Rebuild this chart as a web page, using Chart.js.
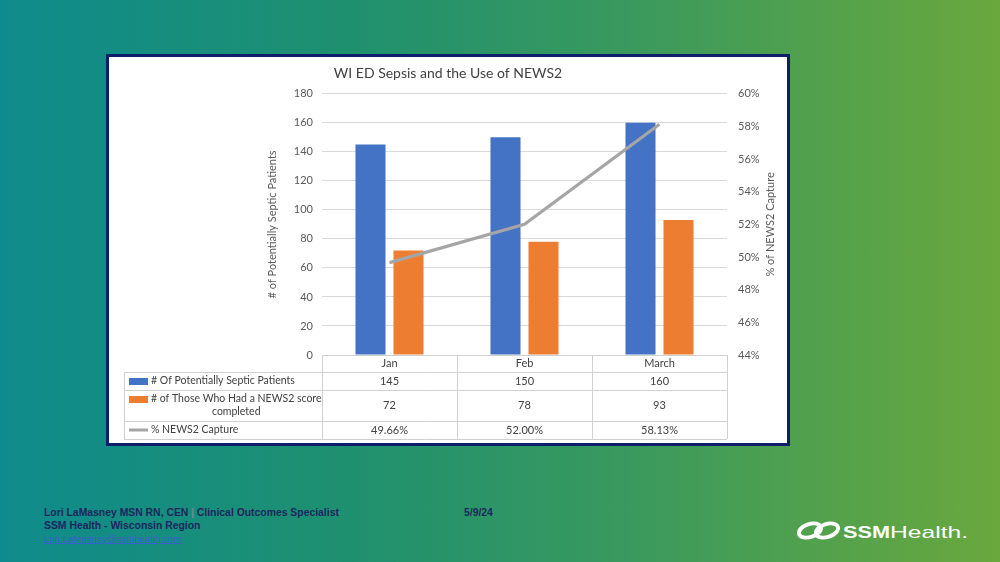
<!DOCTYPE html>
<html>
<head>
<meta charset="utf-8">
<script src="https://cdn.jsdelivr.net/npm/chart.js@4.4.1/dist/chart.umd.min.js"></script>
<style>
html,body{margin:0;padding:0;}
body{width:1000px;height:562px;position:relative;overflow:hidden;
  background:linear-gradient(90deg,#0e8b8c 0%,#1f906f 35%,#3c9a5c 65%,#6aa83d 100%);
  font-family:"Liberation Sans",Arial,sans-serif;}
#box{position:absolute;left:106px;top:54px;width:678px;height:386px;border:3px solid #0d1f6a;background:#fff;}
#c{position:absolute;left:0;top:0;width:678px;height:386px;}
#footer{position:absolute;left:44px;top:506px;font-weight:bold;font-size:10.4px;color:#1b275e;line-height:13px;white-space:nowrap;}
#footer .pipe{color:#9a8fa0;font-weight:normal;}
#footer .mail{font-weight:normal;font-size:9.6px;color:#3a5fcf;text-decoration:underline;}
#date{position:absolute;left:464px;top:506px;font-weight:bold;font-size:10.4px;color:#1b275e;line-height:13px;}
#logo{position:absolute;left:796px;top:514px;}
</style>
</head>
<body>
<div id="box"><canvas id="c" width="678" height="386"></canvas></div>
<div id="footer">
  <div>Lori LaMasney MSN RN, CEN <span class="pipe">|</span> Clinical Outcomes Specialist</div>
  <div>SSM Health - Wisconsin Region</div>
  <div class="mail">Lori.LaMasney@ssmhealth.com</div>
</div>
<div id="date">5/9/24</div>
<svg id="logo" width="185" height="32" viewBox="0 0 185 32">
  <g fill="none" stroke="#ffffff" stroke-width="3.8">
    <ellipse cx="14" cy="16.5" rx="11.5" ry="6.5" transform="rotate(-18 14 16.5)"/>
    <ellipse cx="31" cy="16.5" rx="11.5" ry="6.5" transform="rotate(-18 31 16.5)"/>
  </g>
  <text x="47" y="23.5" font-family="Liberation Sans" font-weight="bold" font-size="16.5" fill="#ffffff" textLength="47" lengthAdjust="spacingAndGlyphs">SSM</text>
  <text x="94" y="23.5" font-family="Liberation Sans" font-size="16.5" fill="#ffffff" textLength="78" lengthAdjust="spacingAndGlyphs">Health.</text>
</svg>
<script>
// ---- data ----
const categories = ['Jan', 'Feb', 'March'];
const septicPatients = [145, 150, 160];
const news2Completed = [72, 78, 93];
const news2CapturePct = [49.66, 52.00, 58.13];
const seriesNames = ['# Of Potentially Septic Patients', '# of Those Who Had a NEWS2 score completed', '% NEWS2 Capture'];
const tableRowLines = [['# Of Potentially Septic Patients'], ['# of Those Who Had a NEWS2 score', 'completed'], ['% NEWS2 Capture']];
const leftAxis = {min: 0, max: 180, step: 20};
const rightAxis = {min: 44, max: 60, step: 2};
const chartTitle = 'WI ED Sepsis and the Use of NEWS2';
const leftAxisTitle = '# of Potentially Septic Patients';
const rightAxisTitle = '% of NEWS2 Capture';

const FONT = 'Lato, "Open Sans", sans-serif';
const TEXT = '#595959';
const GRID = '#d9d9d9';
const colors = ['#4472c4', '#ed7d31', '#a5a5a5'];

const tablePlugin = {
  id: 'tablePlugin',
  afterDraw(chart) {
    const {ctx, chartArea: {left, right, top, bottom}, scales: {x}} = chart;
    const rows = [bottom, bottom + 17, bottom + 35, bottom + 66, bottom + 84];
    const tableLeft = 15;
    const edges = [left];
    for (let i = 0; i < categories.length - 1; i++) {
      edges.push((x.getPixelForValue(i) + x.getPixelForValue(i + 1)) / 2);
    }
    edges.push(right);
    ctx.save();
    ctx.strokeStyle = '#d0d0d0';
    ctx.lineWidth = 1;
    ctx.beginPath();
    ctx.moveTo(left, Math.round(rows[0]) + 0.5); ctx.lineTo(right, Math.round(rows[0]) + 0.5);
    for (let r = 1; r < rows.length; r++) {
      ctx.moveTo(tableLeft, Math.round(rows[r]) + 0.5); ctx.lineTo(right, Math.round(rows[r]) + 0.5);
    }
    edges.forEach(e => { ctx.moveTo(Math.round(e) + 0.5, rows[0]); ctx.lineTo(Math.round(e) + 0.5, rows[4]); });
    ctx.moveTo(tableLeft + 0.5, rows[1]); ctx.lineTo(tableLeft + 0.5, rows[4]);
    ctx.stroke();

    ctx.fillStyle = '#404040';
    ctx.font = '11px ' + FONT;
    ctx.textAlign = 'center';
    ctx.textBaseline = 'middle';
    const mid = r => (rows[r] + rows[r + 1]) / 2;
    categories.forEach((c, i) => {
      const cx = x.getPixelForValue(i);
      ctx.fillText(c, cx, mid(0));
      ctx.fillText(String(septicPatients[i]), cx, mid(1));
      ctx.fillText(String(news2Completed[i]), cx, mid(2));
      ctx.fillText(news2CapturePct[i].toFixed(2) + '%', cx, mid(3));
    });
    // legend column
    const keyL = 20, keyW = 19, textX = 42;
    ctx.font = '10.5px ' + FONT;
    ctx.textAlign = 'left';
    // row 1
    ctx.fillStyle = colors[0];
    ctx.fillRect(keyL, Math.round(mid(1)) - 3, keyW, 7);
    ctx.fillStyle = '#404040';
    ctx.fillText(tableRowLines[0][0], textX, mid(1));
    // row 2
    const l1y = mid(2) - 6.5, l2y = mid(2) + 6.5;
    ctx.fillStyle = colors[1];
    ctx.fillRect(keyL, Math.round(l1y) - 3, keyW, 7);
    ctx.fillStyle = '#404040';
    ctx.fillText(tableRowLines[1][0], textX, l1y);
    const w1 = ctx.measureText(tableRowLines[1][0]).width;
    ctx.textAlign = 'center';
    ctx.fillText(tableRowLines[1][1], textX + w1 / 2, l2y);
    // row 3
    ctx.strokeStyle = colors[2];
    ctx.lineWidth = 3;
    ctx.beginPath();
    ctx.moveTo(keyL, mid(3)); ctx.lineTo(keyL + keyW, mid(3));
    ctx.stroke();
    ctx.textAlign = 'left';
    ctx.fillStyle = '#404040';
    ctx.fillText(tableRowLines[2][0], textX, mid(3));

    // right axis title (reads bottom to top)
    ctx.save();
    ctx.translate(661, (top + bottom) / 2);
    ctx.rotate(-Math.PI / 2);
    ctx.textAlign = 'center';
    ctx.fillStyle = TEXT;
    ctx.font = '11px ' + FONT;
    ctx.fillText(rightAxisTitle, 0, 0);
    ctx.restore();
    ctx.restore();
  }
};

new Chart(document.getElementById('c'), {
  type: 'bar',
  data: {
    labels: categories,
    datasets: [
      {type: 'bar', label: seriesNames[0], data: septicPatients, backgroundColor: colors[0], yAxisID: 'y', order: 2,
       categoryPercentage: 0.563, barPercentage: 0.79},
      {type: 'bar', label: seriesNames[1], data: news2Completed, backgroundColor: colors[1], yAxisID: 'y', order: 2,
       categoryPercentage: 0.563, barPercentage: 0.79},
      {type: 'line', label: seriesNames[2], data: news2CapturePct, borderColor: colors[2], borderWidth: 3.2,
       pointRadius: 0, tension: 0, fill: false, yAxisID: 'y1', order: 1}
    ]
  },
  options: {
    responsive: false,
    animation: false,
    devicePixelRatio: 1,
    layout: {padding: {left: 0, right: 0, top: 0, bottom: 88}},
    plugins: {
      legend: {display: false},
      tooltip: {enabled: false},
      title: {display: true, text: chartTitle, color: '#404040',
              font: {family: FONT, size: 14, weight: 'normal'}, padding: {top: 8, bottom: 12}}
    },
    scales: {
      x: {display: false, offset: true},
      y: {
        position: 'left', min: leftAxis.min, max: leftAxis.max,
        ticks: {stepSize: leftAxis.step, color: TEXT, font: {family: FONT, size: 11}, padding: 9},
        grid: {color: GRID, drawTicks: false},
        border: {display: false},
        title: {display: true, text: leftAxisTitle, color: TEXT, font: {family: FONT, size: 11}, padding: {top: 157, bottom: 0}},
        afterFit(s) { s.width = 213; }
      },
      y1: {
        position: 'right', min: rightAxis.min, max: rightAxis.max,
        ticks: {stepSize: rightAxis.step, color: TEXT, font: {family: FONT, size: 11}, padding: 11,
                callback: v => v + '%'},
        grid: {display: false, drawTicks: false},
        border: {display: false},
        afterFit(s) { s.width = 60; }
      }
    }
  },
  plugins: [tablePlugin]
});
</script>
</body>
</html>
